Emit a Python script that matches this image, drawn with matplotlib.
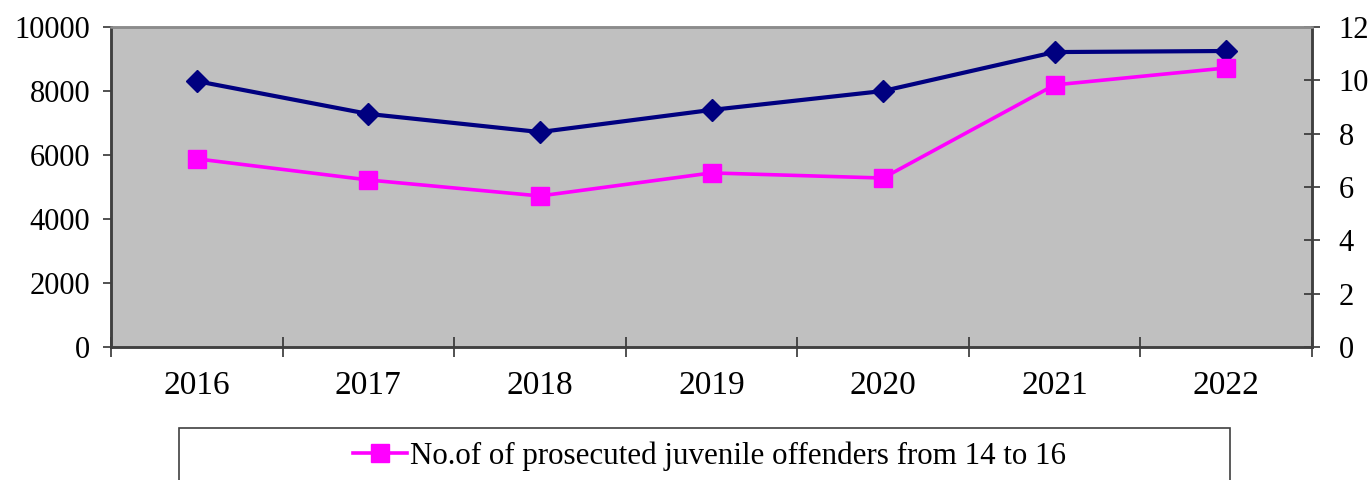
import numpy as np
import matplotlib.pyplot as plt
from matplotlib.patches import Rectangle

plt.rcParams['font.family'] = ['Liberation Serif', 'DejaVu Serif']

# Data
years = ["2016", "2017", "2018", "2019", "2020", "2021", "2022"]
offenders_14_16 = [5880, 5220, 4720, 5440, 5280, 8190, 8720]   # left axis
second_series = [9.97, 8.74, 8.06, 8.89, 9.60, 11.06, 11.10]  # right axis
legend_label = "No.of of prosecuted juvenile offenders from 14 to 16"

W, H = 1372, 480
fig = plt.figure(figsize=(W / 100, H / 100), dpi=100)
ax = fig.add_axes([111 / W, (H - 347) / H, 1201 / W, 320 / H])
ax.set_facecolor('#C0C0C0')

x = np.arange(len(years))
ax2 = ax.twinx()
ax2.plot(x, second_series, color='#000080', lw=3.0, marker='D',
         markersize=11, zorder=3)
line_mag, = ax.plot(x, offenders_14_16, color='#FF00FF', lw=2.6,
                    marker='s', markersize=13, zorder=3, label=legend_label)
ax.set_zorder(ax2.get_zorder() + 1)
ax.patch.set_visible(False)
ax2.patch.set_visible(True)
ax2.patch.set_facecolor('#C0C0C0')

ax.set_xlim(-0.5, len(years) - 0.5)
ax.set_ylim(0, 10000)
ax2.set_ylim(0, 12)

# x ticks: marks between categories, labels at the centres
ax.set_xticks(np.arange(-0.5, len(years), 1.0))
ax.set_xticklabels([])
ax.set_xticks(x, minor=True)
ax.set_xticklabels(years, minor=True, fontsize=24)
ax.tick_params(axis='x', which='major', direction='inout', length=14,
               width=1.2, color='#333333')
ax.tick_params(axis='x', which='minor', length=0, pad=17)

ax.set_yticks(np.arange(0, 10001, 2000))
ax.tick_params(axis='y', direction='out', length=6, width=1.2,
               color='#333333', labelsize=22, pad=9)
ax2.set_yticks(np.arange(0, 13, 2))
ax2.tick_params(axis='y', direction='inout', length=12, width=1.2,
                color='#333333', labelsize=22, pad=13)

for a in (ax, ax2):
    for side, sp in a.spines.items():
        sp.set_color('#404040')
        sp.set_linewidth(1.8)
    a.spines['top'].set_color('#8C8C8C')

# legend box runs past the lower edge of the picture
fig.patches.append(Rectangle((179 / W, -0.1), (1230 - 179) / W,
                             (H - 428) / H + 0.1, transform=fig.transFigure,
                             fill=False, edgecolor='#404040', lw=1.2))
fig.legend(handles=[line_mag], loc='center left',
           bbox_to_anchor=(353 / W, (H - 456) / H), frameon=False,
           fontsize=22.3, handlelength=1.75, handletextpad=0.1,
           borderaxespad=0, borderpad=0)

fig.savefig('out.png', dpi=100)
